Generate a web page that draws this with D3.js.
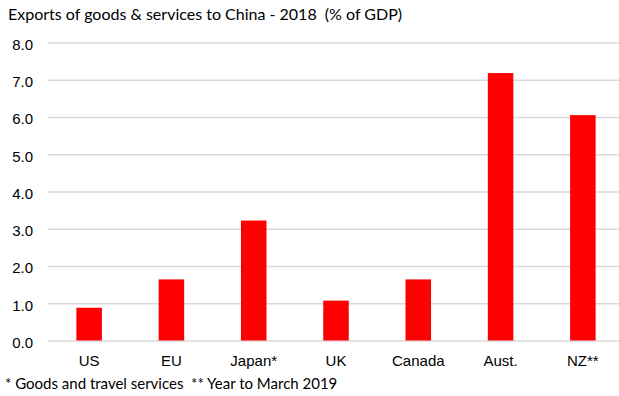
<!DOCTYPE html>
<html>
<head>
<meta charset="utf-8">
<script src="https://cdn.jsdelivr.net/npm/d3@7"></script>
<style>
  body { margin: 0; background: #fff; }
  svg { display: block; font-family: Lato, "Open Sans", sans-serif; }
  .tick text { font-size: 15px; fill: #000; }
</style>
</head>
<body>
<svg id="chart" width="619" height="396"></svg>
<script>
const countries = ['US', 'EU', 'Japan*', 'UK', 'Canada', 'Aust.', 'NZ**'];
const exportsPct = [0.88, 1.64, 3.22, 1.07, 1.64, 7.18, 6.05];
const yTicks = [0, 1, 2, 3, 4, 5, 6, 7, 8];

const data = countries.map((c, i) => ({ country: c, value: exportsPct[i] }));

const svg = d3.select('#chart');
const margin = { top: 42.5, left: 48, right: -5, bottom: 55 };
const width = 619, height = 396;

const xScale = d3.scaleBand()
    .domain(countries)
    .range([margin.left, width - margin.right])
    .paddingInner(0.69)
    .paddingOuter(0.345);

const yScale = d3.scaleLinear()
    .domain([0, 8])
    .range([height - margin.bottom - 0.5, margin.top]);

// gridlines + y labels
const yAxis = d3.axisLeft(yScale)
    .tickValues(yTicks)
    .tickFormat(d3.format('.1f'))
    .tickSize(-(width - margin.left))
    .tickPadding(15);

const yg = svg.append('g')
    .attr('transform', 'translate(' + margin.left + ',0)')
    .call(yAxis);
yg.select('.domain').remove();
yg.selectAll('.tick line').attr('stroke', '#d9d9d9').attr('stroke-width', 1.3);
yg.selectAll('.tick text').attr('dy', '0.45em');

// bars
svg.append('g').selectAll('rect')
    .data(data)
    .enter()
    .append('rect')
    .attr('x', d => xScale(d.country))
    .attr('width', xScale.bandwidth())
    .attr('y', d => yScale(d.value))
    .attr('height', d => yScale(0) - yScale(d.value))
    .attr('fill', '#ff0000');

// x labels
const xAxis = d3.axisBottom(xScale).tickSize(0).tickPadding(15);
const xg = svg.append('g')
    .attr('transform', 'translate(0,' + yScale(0) + ')')
    .call(xAxis);
xg.select('.domain').remove();

svg.append('text')
    .attr('x', 8)
    .attr('y', 20)
    .attr('font-size', 16)
    .style('white-space', 'pre')
    .text('Exports of goods & services to China - 2018  (% of GDP)');

svg.append('text')
    .attr('x', 5)
    .attr('y', 389)
    .attr('font-size', 15)
    .style('white-space', 'pre')
    .text('* Goods and travel services  ** Year to March 2019');
</script>
</body>
</html>
